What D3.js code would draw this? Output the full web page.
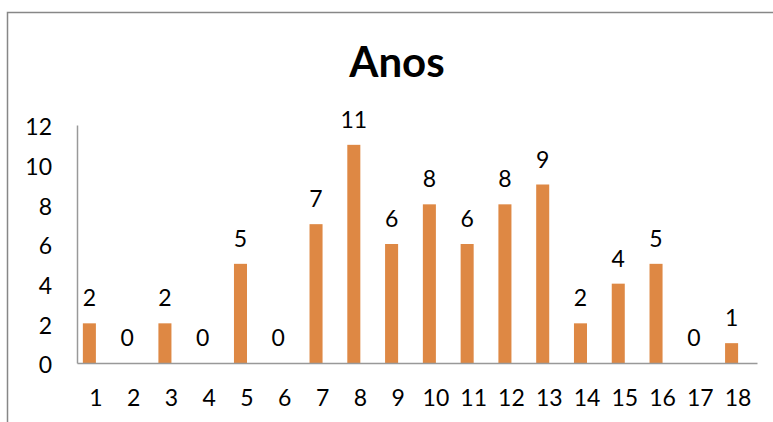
<!DOCTYPE html>
<html>
<head>
<meta charset="utf-8">
<script src="https://cdn.jsdelivr.net/npm/d3@7"></script>
<style>
html,body{margin:0;padding:0;background:#fff;}
svg{display:block;}
text{font-family:Lato,"Open Sans",sans-serif;fill:#000;}
</style>
</head>
<body>
<svg id="chart" width="773" height="422"></svg>
<script>
const title = "Anos";
const categories = ["1","2","3","4","5","6","7","8","9","10","11","12","13","14","15","16","17","18"];
const values = [2,0,2,0,5,0,7,11,6,8,6,8,9,2,4,5,0,1];
const yTicks = [0,2,4,6,8,10,12];

const svg = d3.select("#chart");
const W = 773, H = 422;
const plot = {left:77, right:757, top:125, bottom:363};
const fs = "23px";

// outer frame (partially cropped)
svg.append("path")
  .attr("d", `M7.5,${H} L7.5,12.5 L${W},12.5`)
  .attr("fill","none").attr("stroke","#878787").attr("stroke-width",1.5);

const x = d3.scaleBand().domain(categories).range([plot.left, plot.right]).paddingInner(0).paddingOuter(0);
const y = d3.scaleLinear().domain([0,12]).range([plot.bottom, plot.top]);
const barW = x.bandwidth()*0.345;
const center = c => x(c) + x.bandwidth()/2;

// title
svg.append("text").attr("x",397).attr("y",77).attr("text-anchor","middle")
  .style("font-size","42px").style("font-weight","700").text(title);

// bars
svg.append("g").selectAll("rect").data(values).join("rect")
  .attr("x",(d,i)=>center(categories[i]) - barW)
  .attr("width",barW)
  .attr("y",d=>y(d))
  .attr("height",d=>y(0)-y(d))
  .attr("fill","#DE8844");

// value labels
svg.append("g").selectAll("text").data(values).join("text")
  .attr("x",(d,i)=>center(categories[i]) - barW/2)
  .attr("y",d=>y(d)-17)
  .attr("text-anchor","middle")
  .style("font-size",fs)
  .text(d=>d);

// y axis
const yAxis = d3.axisLeft(y).tickValues(yTicks).tickSize(0).tickPadding(25);
const gy = svg.append("g").attr("transform",`translate(${plot.left},0)`).call(yAxis);
gy.select(".domain").attr("stroke","#999").attr("stroke-width",1.5);
gy.selectAll("text").style("font-size",fs).style("font-family","Lato").attr("dy","0.42em").attr("fill","#000");

// x axis
const xAxis = d3.axisBottom(x).tickSize(0).tickPadding(38);
const gx = svg.append("g").attr("transform",`translate(0,${plot.bottom})`).call(xAxis);
gx.select(".domain").attr("stroke","#999").attr("stroke-width",1.5);
gx.selectAll("text").style("font-size",fs).style("font-family","Lato").attr("dy","0.22em").attr("fill","#000");
</script>
</body>
</html>
